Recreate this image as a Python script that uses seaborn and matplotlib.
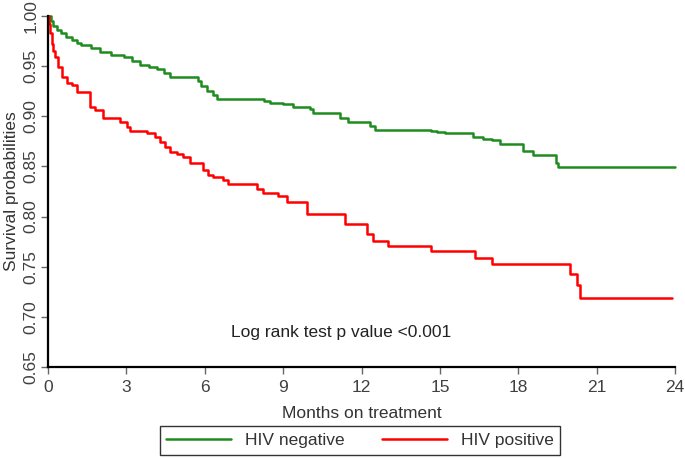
import pandas as pd
import seaborn as sns
import matplotlib.pyplot as plt
from matplotlib.lines import Line2D

# Kaplan-Meier estimates (months, survival)
neg_months = [0, 0.10, 0.20, 0.35, 0.50, 0.70, 0.90, 1.10, 1.25, 1.65, 2.00, 2.40,
              2.90, 3.20, 3.52, 3.85, 4.17, 4.45, 4.67, 5.75, 5.85, 6.09, 6.30, 6.47,
              8.25, 8.50, 9.00, 9.38, 10.03, 10.14, 11.18, 11.48, 12.33, 12.52,
              14.65, 14.90, 15.20, 16.25, 16.65, 17.00, 17.30, 18.20, 18.56, 19.45,
              19.52, 24.00]
neg_surv = [1.000, 0.995, 0.990, 0.986, 0.983, 0.979, 0.976, 0.973, 0.971, 0.968,
            0.964, 0.961, 0.959, 0.955, 0.951, 0.949, 0.947, 0.943, 0.939, 0.935,
            0.930, 0.925, 0.921, 0.917, 0.915, 0.913, 0.912, 0.909, 0.907, 0.903,
            0.898, 0.894, 0.890, 0.886, 0.885, 0.884, 0.883, 0.879, 0.877, 0.876,
            0.872, 0.865, 0.861, 0.853, 0.849, 0.849]

pos_months = [0, 0.04, 0.08, 0.15, 0.20, 0.27, 0.38, 0.54, 0.73, 0.92, 1.11, 1.61,
              1.80, 2.11, 2.76, 3.02, 3.14, 3.79, 4.10, 4.29, 4.48, 4.67, 4.94, 5.17,
              5.44, 5.93, 6.12, 6.32, 6.70, 6.89, 8.00, 8.23, 8.80, 9.15, 9.91, 11.37,
              12.21, 12.44, 13.01, 14.66, 16.34, 17.00, 19.98, 20.25, 20.36, 23.89]
pos_surv = [1.000, 0.992, 0.983, 0.972, 0.965, 0.959, 0.949, 0.939, 0.933, 0.931,
            0.924, 0.909, 0.906, 0.898, 0.894, 0.889, 0.885, 0.883, 0.879, 0.874,
            0.869, 0.864, 0.862, 0.859, 0.853, 0.846, 0.841, 0.839, 0.836, 0.832,
            0.828, 0.824, 0.821, 0.815, 0.803, 0.793, 0.783, 0.776, 0.771, 0.766,
            0.759, 0.753, 0.743, 0.732, 0.719, 0.719]

groups = ['HIV negative', 'HIV positive']
colors = {'HIV negative': '#1e8c1e', 'HIV positive': '#ff0000'}

data = pd.concat([
    pd.DataFrame({'months': neg_months, 'surv': neg_surv, 'group': groups[0]}),
    pd.DataFrame({'months': pos_months, 'surv': pos_surv, 'group': groups[1]}),
])

sns.set_style('white')
plt.rcParams['font.family'] = ['Liberation Sans', 'DejaVu Sans']
FS = 12.5

fig = plt.figure(figsize=(6.85, 4.59), dpi=100)
ax = fig.add_axes([0.0701, 0.2004, 0.9153, 0.7647])

sns.lineplot(
    data=data, x='months', y='surv', hue='group', palette=colors,
    estimator=None, sort=False, drawstyle='steps-post',
    linewidth=1.8, legend=False, ax=ax, clip_on=False,
)

ax.set_xlim(0, 24)
ax.set_ylim(0.65, 1.0)
ax.set_xticks(range(0, 25, 3))
yt = [0.65, 0.70, 0.75, 0.80, 0.85, 0.90, 0.95, 1.00]
ax.set_yticks(yt)
ax.set_yticklabels([f'{v:.2f}' for v in yt], rotation=90, va='center')

for s in ['top', 'right']:
    ax.spines[s].set_visible(False)
for s in ['left', 'bottom']:
    ax.spines[s].set_color('black')
    ax.spines[s].set_linewidth(1.6)

ax.tick_params(axis='both', which='major', length=5, width=1, color='#666666',
               labelcolor='#404040', labelsize=FS, direction='out',
               left=True, bottom=True)
ax.tick_params(axis='x', pad=4)
ax.tick_params(axis='y', pad=2)

ax.set_xlabel('Months on treatment', fontsize=FS, color='#333333', labelpad=8)
ax.set_ylabel('Survival probabilities', fontsize=FS, color='#333333', labelpad=3)

ax.text(7.0, 0.684, 'Log rank test p value <0.001', fontsize=FS,
        color='#222222', va='center', ha='left')

handles = [Line2D([0], [0], color=colors[g], lw=1.8) for g in groups]
leg = fig.legend(handles, groups, loc='center', bbox_to_anchor=(0.5255, 0.040),
                 ncol=2, frameon=True, fancybox=False, handlelength=3.7,
                 columnspacing=2.2, fontsize=FS, borderpad=0.4)
leg.get_frame().set_edgecolor('black')
leg.get_frame().set_linewidth(1.0)
for t in leg.get_texts():
    t.set_color('#333333')

plt.savefig('out.png', dpi=100)
